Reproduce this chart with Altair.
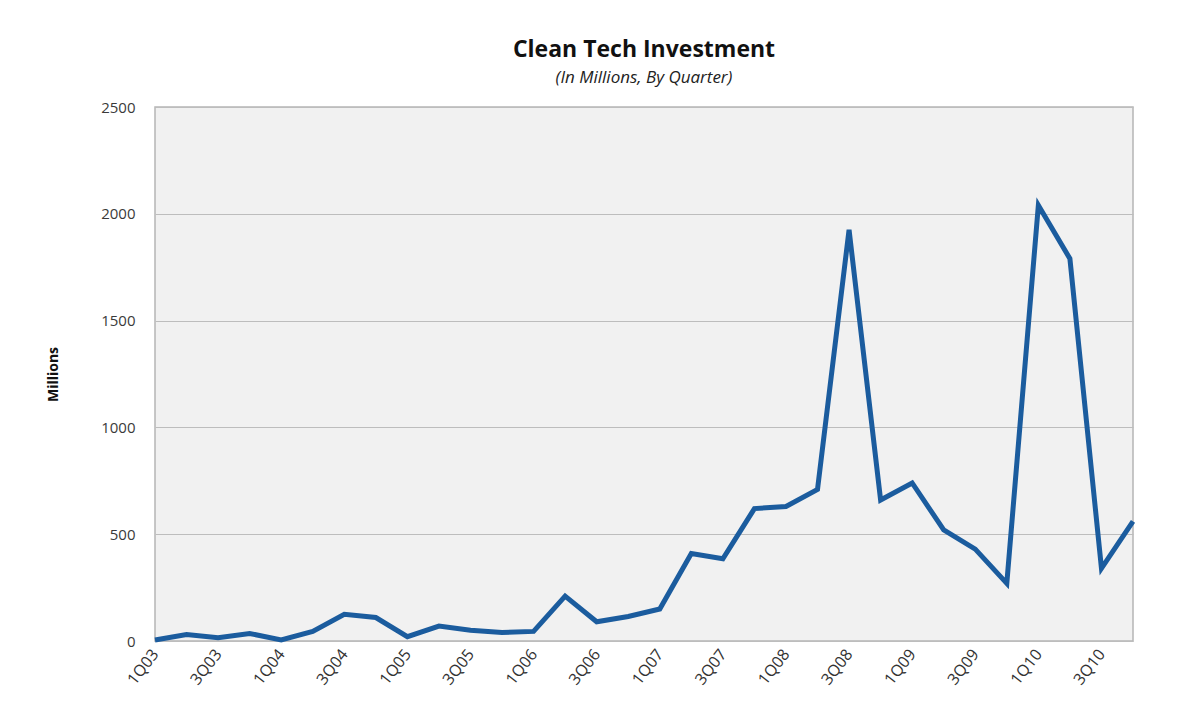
import altair as alt
import pandas as pd

quarters = [
    "1Q03", "2Q03", "3Q03", "4Q03", "1Q04", "2Q04", "3Q04", "4Q04",
    "1Q05", "2Q05", "3Q05", "4Q05", "1Q06", "2Q06", "3Q06", "4Q06",
    "1Q07", "2Q07", "3Q07", "4Q07", "1Q08", "2Q08", "3Q08", "4Q08",
    "1Q09", "2Q09", "3Q09", "4Q09", "1Q10", "2Q10", "3Q10", "4Q10",
]
investment = [
    5, 30, 15, 35, 5, 45, 125, 110,
    20, 70, 50, 40, 45, 210, 90, 115,
    150, 410, 385, 620, 630, 710, 1925, 660,
    740, 520, 430, 270, 2040, 1790, 340, 560,
]
shown_labels = [q for q in quarters if q[0] in ("1", "3")]
y_ticks = [0, 500, 1000, 1500, 2000, 2500]

df = pd.DataFrame({"quarter": quarters, "value": investment})

FONT = "Open Sans"

chart = (
    alt.Chart(df)
    .mark_line(color="#1b5c9e", strokeWidth=5, strokeJoin="miter")
    .encode(
        x=alt.X(
            "quarter:O",
            sort=quarters,
            scale=alt.Scale(type="point", padding=0),
            axis=alt.Axis(
                values=shown_labels,
                labelAngle=-52,
                labelAlign="right",
                labelBaseline="middle",
                labelFont=FONT,
                labelFontSize=16,
                labelColor="#333333",
                labelPadding=10,
                ticks=False,
                domain=False,
                grid=False,
                title=None,
            ),
        ),
        y=alt.Y(
            "value:Q",
            scale=alt.Scale(domain=[0, 2500], nice=False),
            axis=alt.Axis(
                values=y_ticks,
                format="d",
                labelFont=FONT,
                labelFontSize=15,
                labelColor="#3a3a3a",
                labelPadding=20,
                ticks=False,
                domain=False,
                gridColor="#bdbdbd",
                gridWidth=1.2,
                title="Millions",
                titleFont=FONT,
                titleFontSize=14,
                titleFontWeight="bold",
                titleColor="#111111",
                titlePadding=40,
            ),
        ),
    )
    .properties(
        width=978,
        height=534,
        padding={"left": 147, "top": 99, "right": 52, "bottom": 80},
        autosize=alt.AutoSizeParams(type="none"),
        title=alt.TitleParams(
            text="Clean Tech Investment",
            subtitle="(In Millions, By Quarter)",
            font=FONT,
            fontSize=23,
            fontWeight="bold",
            color="#111111",
            subtitleFont=FONT,
            subtitleFontSize=17,
            subtitleFontStyle="italic",
            subtitleColor="#222222",
            subtitlePadding=8,
            anchor="middle",
            offset=14,
        ),
    )
    .configure(background="white")
    .configure_view(fill="#f1f1f1", stroke="#b5b5b5", strokeWidth=1.5)
)

chart.save("out.html", embed_options={"renderer": "svg", "actions": False})
